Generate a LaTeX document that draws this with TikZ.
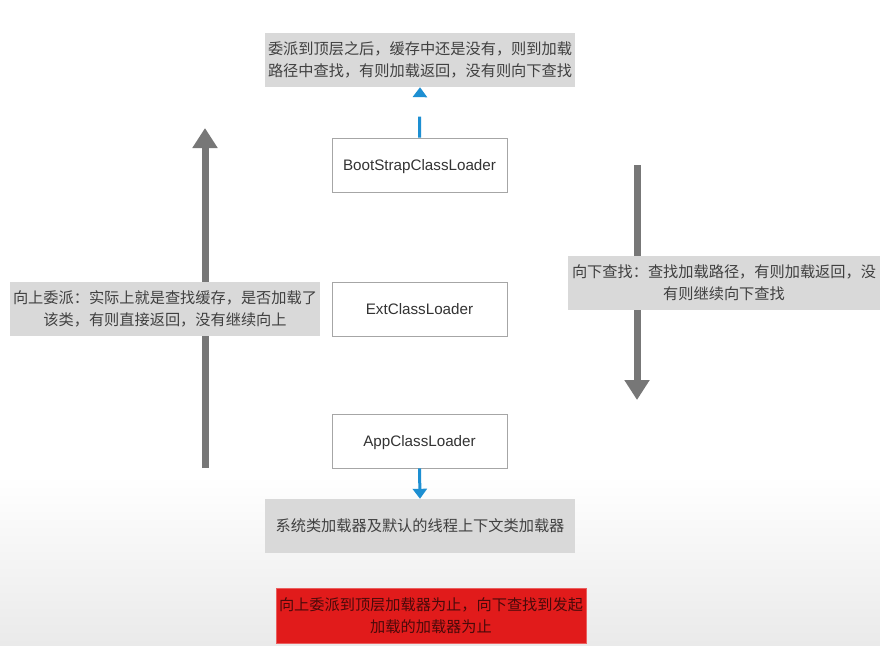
\documentclass[tikz,border=0pt]{standalone}
\usepackage{fontspec}
\setmainfont{Liberation Sans}
\newfontfamily\cjk{Noto Sans CJK SC}
\usetikzlibrary{arrows.meta}

\definecolor{noteFill}{HTML}{D9D9D9}
\definecolor{noteText}{HTML}{404040}
\definecolor{loaderLine}{HTML}{A6A6A6}
\definecolor{flowGray}{HTML}{777777}
\definecolor{flowBlue}{HTML}{1D8FD2}
\definecolor{alertRed}{HTML}{E11B1B}
\definecolor{alertText}{HTML}{4A0A0A}
\definecolor{floorGray}{HTML}{EAEAEA}

\tikzset{
  note/.style={rectangle, fill=noteFill, minimum height=54pt, inner sep=0pt,
    align=center, text=noteText, font=\cjk\fontsize{15.2}{22}\selectfont},
  loader/.style={rectangle, draw=loaderLine, line width=0.8pt, fill=white,
    minimum width=175pt, minimum height=54pt, inner sep=0pt,
    text height=10.4pt, text depth=0pt,
    text=black!80, font=\fontsize{15.2}{17}\selectfont},
  bigflow/.style={draw=flowGray, line width=7pt,
    -{Triangle[width=24pt,length=20pt]}},
  smallflow/.style={draw=flowBlue, line width=3pt,
    -{Triangle[width=14pt,length=10pt]}},
}

\begin{document}
\begin{tikzpicture}[x=1pt,y=-1pt]
  \useasboundingbox (0,0) rectangle (880,645);
  % page background with a soft grey floor
  \fill[white] (0,0) rectangle (880,645);
  \shade[top color=white, bottom color=floorGray] (0,475) rectangle (880,645);

  % upward and downward delegation arrows
  \coordinate (upFrom) at (205,468);
  \coordinate (upTo) at (205,128);
  \coordinate (downFrom) at (637,165);
  \coordinate (downTo) at (637,400);
  \draw[bigflow] (upFrom) -- (upTo);
  \draw[bigflow] (downFrom) -- (downTo);

  % class loaders
  \node[loader] (boot) at (419.5,165) {BootStrapClassLoader};
  \node[loader] (ext) at (419.5,309) {ExtClassLoader};
  \node[loader] (app) at (419.5,441) {AppClassLoader};

  % notes
  \node[note, minimum width=310pt] (topnote) at (420,60)
    {委派到顶层之后，缓存中还是没有，则到加载\\路径中查找，有则加载返回，没有则向下查找};
  \node[note, minimum width=310pt] (upnote) at (165,309)
    {向上委派：实际上就是查找缓存，是否加载了\\该类，有则直接返回，没有继续向上};
  \node[note, minimum width=312pt] (downnote) at (724,283)
    {向下查找：查找加载路径，有则加载返回，没\\有则继续向下查找};
  \node[note, minimum width=310pt] (appnote) at (420,526)
    {系统类加载器及默认的线程上下文类加载器};
  \node[note, minimum width=310pt, minimum height=55pt, fill=alertRed,
        draw=alertRed!70!white, line width=0.6pt, text=alertText] (rule) at (431,615.5)
    {向上委派到顶层加载器为止，向下查找到发起\\加载的加载器为止};

  % blue connectors
  \draw[smallflow, dash pattern=on 21pt off 40pt] (boot.north) -- (topnote.south);
  \draw[smallflow] (app.south) -- (appnote.north);
\end{tikzpicture}
\end{document}
